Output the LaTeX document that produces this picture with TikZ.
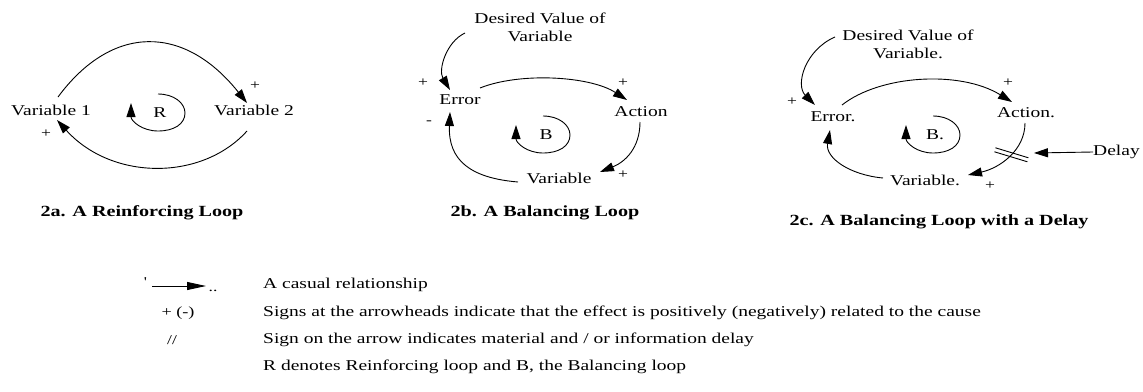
\documentclass[tikz,border=0pt]{standalone}
\usepackage{fontspec}
\setmainfont[FakeStretch=1.3]{Liberation Serif}
\usetikzlibrary{arrows.meta,calc}
\newcommand\smallloop[1]{\draw[arr,shift={(#1)}] (-2,-19) .. controls (14,-19) and (25,-10) .. (25,0) .. controls (25,11) and (14,18) .. (-2,18) .. controls (-18,18) and (-29,8) .. (-29,-10);}
\begin{document}
\begin{tikzpicture}[x=1pt,y=-1pt,
  lab/.style={font=\fontsize{15}{18}\selectfont, inner sep=0pt, align=center},
  ttl/.style={font=\fontsize{15.5}{18}\selectfont\bfseries, inner sep=0pt},
  sgn/.style={font=\fontsize{13.5}{15}\selectfont, inner sep=0pt},
  leg/.style={font=\fontsize{15}{18}\selectfont, inner sep=0pt, anchor=west},
  arr/.style={line width=0.9pt, -{Triangle[length=14pt,width=9pt]}},
  larr/.style={line width=0.9pt, -{Triangle[length=19pt,width=8pt]}},
  ln/.style={line width=0.9pt}]
\useasboundingbox (0,0) rectangle (1143,391);

% ---------- 2a ----------
\node[lab] (v1) at (51,110) {Variable 1};
\node[lab] (v2) at (254,110) {Variable 2};
\node[lab] (r) at (160,113) {R};
\node[sgn] (p1) at (255,86) {+};
\node[sgn] (p2) at (46,134) {+};
\node[ttl] (t2a) at (142,213) {2a. A Reinforcing Loop};
\draw[arr] ($(v1)+(7,-13)$) .. controls (112,24) and (184,24) .. ($(v2)+(-7,-7)$);
\draw[arr] ($(v2)+(-7,21)$) .. controls (202,181) and (112,181) .. ($(v1)+(6,10)$);
\smallloop{$(r)+(0,0)$}

% ---------- 2b ----------
\node[lab] (des) at (540,27) {Desired Value of\\Variable};
\node[lab] (err) at (460,100) {Error};
\node[lab] (act) at (641,112) {Action};
\node[lab] (var) at (559,178) {Variable};
\node[lab] (b) at (546,135) {B};
\node[sgn] (p3) at (423,83) {+};
\node[sgn] (p4) at (623,83) {+};
\node[sgn] (p5) at (623,175) {+};
\node[sgn] (m1) at (429,123) {-};
\node[ttl] (t2b) at (545,213) {2b. A Balancing Loop};
\draw[arr] ($(des)+(-75,6)$) .. controls (446,42) and (438,70) .. ($(err)+(-10,-10)$);
\draw[arr] ($(err)+(20,-12)$) .. controls (520,72) and (590,76) .. ($(act)+(-14,-12)$);
\draw[arr] ($(act)+(-1,10)$) .. controls (640,148) and (625,162) .. ($(var)+(41,-6)$);
\draw[arr] ($(var)+(-41,4)$) .. controls (470,178) and (448,160) .. ($(err)+(-10,12)$);
\smallloop{$(b)+(-1,0)$}

% ---------- 2c ----------
\node[lab] (des2) at (908,44) {Desired Value of\\Variable.};
\node[lab] (err2) at (833,117) {Error.};
\node[lab] (act2) at (1026,113) {Action.};
\node[lab] (var2) at (925,180) {Variable.};
\node[lab] (b2) at (935,135) {B.};
\node[lab,anchor=west] (delay) at (1093,152) {Delay};
\node[sgn] (p6) at (1008,83) {+};
\node[sgn] (p7) at (792,102) {+};
\node[sgn] (p8) at (990,186) {+};
\node[ttl] (t2c) at (939,222) {2c. A Balancing Loop with a Delay};
\draw[arr] ($(des2)+(-73,-7)$) .. controls (805,50) and (795,85) .. ($(err2)+(-18,-12)$);
\draw[arr] ($(err2)+(9,-12)$) .. controls (880,75) and (960,70) .. ($(act2)+(-14,-11)$);
\draw[arr] ($(act2)+(-1,10)$) .. controls (1025,150) and (1000,168) .. ($(var2)+(43,-5)$) coordinate[pos=0.45] (dm);
\draw[arr] ($(var2)+(-42,-2)$) .. controls (850,175) and (825,158) .. ($(err2)+(-3,13)$);
\draw[ln] ($(dm)+(-16,-6)$) -- ($(dm)+(17,4)$);
\draw[ln] ($(dm)+(-17,-2)$) -- ($(dm)+(16,8)$);
\coordinate (dtip) at (1034,153);
\draw[arr] (delay.west) -- (dtip);
\smallloop{$(b2)+(0,0)$}

% ---------- legend ----------
\node[sgn] (q) at (145,282) {\textquotesingle};
\coordinate (la) at (152,286);
\coordinate (lb) at (206,286);
\draw[larr] (la) -- (lb);
\node[sgn] (dd) at (213,291) {..};
\node[leg] (l1) at (263,285) {A casual relationship};
\node[sgn,font=\fontsize{14}{16}\selectfont] (s2) at (178,313) {+ (-)};
\node[leg] (l2) at (263,313) {Signs at the arrowheads indicate that the effect is positively (negatively) related to the cause};
\node[sgn] (s3) at (172,340) {//};
\node[leg] (l3) at (263,340) {Sign on the arrow indicates material and / or information delay};
\node[leg] (l4) at (263,367) {R denotes Reinforcing loop and B, the Balancing loop};
\end{tikzpicture}
\end{document}
